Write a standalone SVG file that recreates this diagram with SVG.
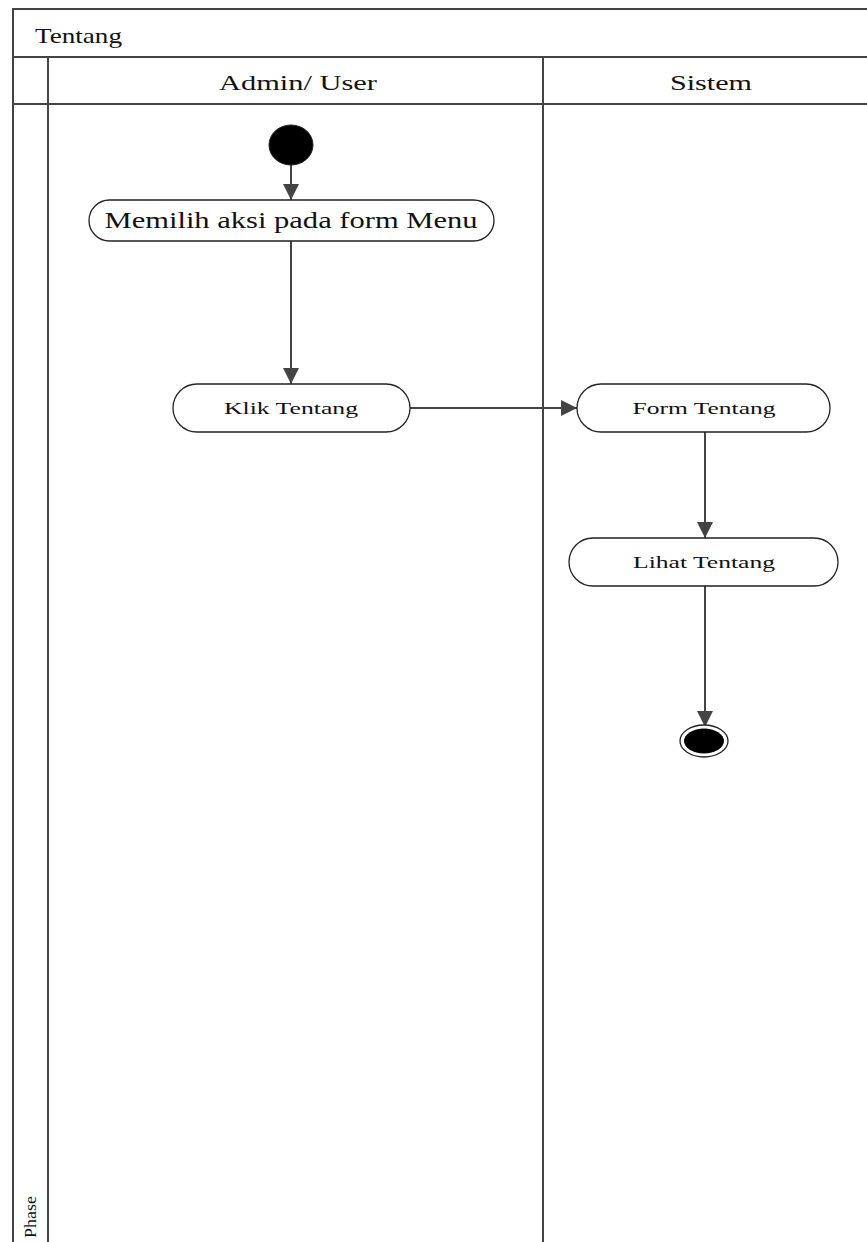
<svg xmlns="http://www.w3.org/2000/svg" width="867" height="1242" viewBox="0 0 867 1242">
<style>
.frame{fill:none;stroke:#444;stroke-width:2}
.node{fill:#fff;stroke:#222;stroke-width:1.3}
.conn{fill:none;stroke:#444;stroke-width:2}
.t{font-family:"Liberation Serif",serif;fill:#111;text-anchor:middle}
</style>
<defs>
<marker id="ah" markerWidth="16" markerHeight="16" refX="14" refY="7" orient="auto" markerUnits="userSpaceOnUse" viewBox="0 0 14 14">
<path d="M0,0 L14,7 L0,14 z" fill="#444"/>
</marker>
</defs>
<rect width="867" height="1242" fill="#fff"/>
<g id="frame">
<path class="frame" d="M13,1242 V9 H880 M13,57 H880 M13,104 H880 M48,57 V1242 M543,57 V1242"/>
<text x="35" y="43" textLength="87" lengthAdjust="spacingAndGlyphs" style="font-family:'Liberation Serif',serif;font-size:22px;fill:#111">Tentang</text>
<text class="t" x="298" y="90" textLength="158" lengthAdjust="spacingAndGlyphs" style="font-size:21px">Admin/ User</text>
<text class="t" x="711" y="90" textLength="82" lengthAdjust="spacingAndGlyphs" style="font-size:21px">Sistem</text>
<text transform="translate(36,1238) rotate(-90)" textLength="42" lengthAdjust="spacingAndGlyphs" style="font-family:'Liberation Serif',serif;font-size:16px;fill:#111">Phase</text>
</g>
<g id="connectors">
<path class="conn" d="M291,165 V200" marker-end="url(#ah)"/>
<path class="conn" d="M291,241 V384" marker-end="url(#ah)"/>
<path class="conn" d="M410,408 H577" marker-end="url(#ah)"/>
<path class="conn" d="M705,432 V538" marker-end="url(#ah)"/>
<path class="conn" d="M705,586 V727" marker-end="url(#ah)"/>
</g>
<g id="start">
<ellipse cx="291" cy="145" rx="22" ry="20" fill="#000" stroke="#222" stroke-width="1"/>
</g>
<g id="memilih">
<rect class="node" x="89" y="200" width="405" height="41" rx="20.5"/>
<text class="t" x="291" y="228" textLength="373" lengthAdjust="spacingAndGlyphs" style="font-size:23px">Memilih aksi pada form Menu</text>
</g>
<g id="klik">
<rect class="node" x="173" y="384" width="237" height="48" rx="24"/>
<text class="t" x="291" y="414" textLength="134" lengthAdjust="spacingAndGlyphs" style="font-size:17px">Klik Tentang</text>
</g>
<g id="form">
<rect class="node" x="577" y="384" width="253" height="48" rx="24"/>
<text class="t" x="704" y="414" textLength="143" lengthAdjust="spacingAndGlyphs" style="font-size:17px">Form Tentang</text>
</g>
<g id="lihat">
<rect class="node" x="569" y="538" width="269" height="48" rx="24"/>
<text class="t" x="704" y="568" textLength="142" lengthAdjust="spacingAndGlyphs" style="font-size:17px">Lihat Tentang</text>
</g>
<g id="end">
<ellipse cx="704" cy="741" rx="24" ry="16" fill="#fff" stroke="#222" stroke-width="1.3"/>
<ellipse cx="704" cy="741" rx="20" ry="12.5" fill="#000"/>
</g>
</svg>
